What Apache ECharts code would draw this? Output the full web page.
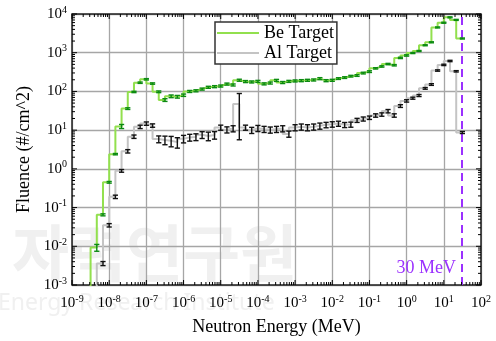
<!DOCTYPE html>
<html><head><meta charset="utf-8">
<script src="https://cdn.jsdelivr.net/npm/echarts@6/dist/echarts.min.js"></script>
<style>html,body{margin:0;padding:0;background:#fff}#c{width:496px;height:341px}</style>
</head><body><div id="c"></div>
<script>
// upper bin edges (MeV); bin i spans binEdges[i-1]..binEdges[i]
const binEdges = [3.162e-9, 4.642e-9, 6.813e-9,
  1e-8, 1.468e-8, 2.154e-8, 3.162e-8, 4.642e-8, 6.813e-8,
  1e-7, 1.468e-7, 2.154e-7, 3.162e-7, 4.642e-7, 6.813e-7,
  1e-6, 1.468e-6, 2.154e-6, 3.162e-6, 4.642e-6, 6.813e-6,
  1e-5, 1.468e-5, 2.154e-5, 3.162e-5, 4.642e-5, 6.813e-5,
  1e-4, 1.468e-4, 2.154e-4, 3.162e-4, 4.642e-4, 6.813e-4,
  1e-3, 1.468e-3, 2.154e-3, 3.162e-3, 4.642e-3, 6.813e-3,
  1e-2, 1.468e-2, 2.154e-2, 3.162e-2, 4.642e-2, 6.813e-2,
  0.1, 0.1468, 0.2154, 0.3162, 0.4642, 0.6813,
  1, 1.468, 2.154, 3.162, 4.642, 6.813,
  10, 14.68, 21.54, 31.62];
const beValues = [null, 0.0093, 0.065, 0.45,
  2.4, 12.5, 36, 97, 168, 206,
  160, 98, 60, 75, 73, 80,
  100, 104, 115, 128, 133, 138,
  155, 147, 195, 180, 176, 182,
  157, 165, 193, 170, 182, 187,
  190, 194, 198, 214, 190, 194,
  215, 228, 248, 258, 298, 325,
  395, 442, 510, 475, 735, 850,
  980, 1110, 1560, 1860, 4500, 5950,
  8200, 7050, 2330];
const alValues = [null, null, 0.0036, 0.035,
  0.19, 0.89, 2.85, 6.8, 12.2, 14.8,
  13.2, 5.9, 5.6, 5.3, 4.9, 6.0,
  6.5, 6.7, 7.6, 7.1, 7.5, 11.7,
  10.3, 11, 47, 11.7, 10, 11.2,
  10.6, 10.2, 10.6, 11, 8, 11.7,
  12.2, 11.7, 12.2, 12.9, 13.7, 14.2,
  14.8, 13.7, 14, 18, 19.5, 21,
  24, 25.4, 31, 24, 42, 57,
  67, 78.5, 120, 151, 347, 485,
  612, 331, 8.7];
const beRelErr = [null, 0.2, 0.06, 0.05,
  0.04, 0.12, 0.05, 0.04, 0.04, 0.04,
  0.04, 0.05, 0.08, 0.08, 0.08, 0.07,
  0.06, 0.06, 0.06, 0.06, 0.06, 0.06,
  0.06, 0.06, 0.06, 0.06, 0.06, 0.06,
  0.06, 0.06, 0.06, 0.06, 0.06, 0.06,
  0.06, 0.06, 0.06, 0.06, 0.06, 0.06,
  0.05, 0.05, 0.05, 0.05, 0.05, 0.05,
  0.04, 0.04, 0.04, 0.04, 0.04, 0.04,
  0.03, 0.03, 0.03, 0.03, 0.03, 0.03,
  0.03, 0.03, 0.03];
const alRelErr = [null, null, 0.12, 0.1,
  0.1, 0.08, 0.1, 0.1, 0.1, 0.1,
  0.1, 0.2, 0.25, 0.3, 0.3, 0.22,
  0.2, 0.2, 0.2, 0.25, 0.22, 0.15,
  0.18, 0.18, 0.88, 0.15, 0.18, 0.18,
  0.18, 0.18, 0.18, 0.18, 0.18, 0.18,
  0.18, 0.18, 0.18, 0.18, 0.16, 0.16,
  0.15, 0.15, 0.15, 0.12, 0.12, 0.1,
  0.1, 0.1, 0.1, 0.1, 0.08, 0.07,
  0.06, 0.06, 0.05, 0.05, 0.04, 0.04,
  0.04, 0.04, 0.06];
const cutoffEnergy = 30;
const seriesNames = ['Be Target', 'Al Target'];
const xRange = [1e-9, 1e2];
const yRange = [1e-3, 1e4];

const FONT = 'Liberation Serif';
const GREEN = '#92e04e', GREEN_ERR = '#0b8a12', GRAY = '#c4c4c4', PURPLE = '#9b30ff';

function stepData(vals) {
  const out = []; let started = false;
  for (let i = 0; i < binEdges.length; i++) {
    if (vals[i] == null) continue;
    if (!started) { out.push([binEdges[i - 1], 1e-12]); started = true; }
    out.push([binEdges[i], vals[i]]);
  }
  return out;
}
function errData(vals, rel) {
  const out = [];
  for (let i = 0; i < binEdges.length; i++) {
    if (vals[i] == null || rel[i] == null) continue;
    out.push([binEdges[i], vals[i], vals[i] * (1 - rel[i]), vals[i] * (1 + rel[i])]);
  }
  return out;
}
function errRender(color) {
  return function (params, api) {
    const x = api.value(0);
    const p1 = api.coord([x, api.value(2)]);
    const p2 = api.coord([x, api.value(3)]);
    const w = 2.6;
    const st = { stroke: color, lineWidth: 1.4 };
    return { type: 'group', children: [
      { type: 'line', shape: { x1: p1[0], y1: p1[1], x2: p2[0], y2: p2[1] }, style: st },
      { type: 'line', shape: { x1: p1[0] - w, y1: p1[1], x2: p1[0] + w, y2: p1[1] }, style: st },
      { type: 'line', shape: { x1: p2[0] - w, y1: p2[1], x2: p2[0] + w, y2: p2[1] }, style: st }
    ]};
  };
}
// tick marks (decoration) on all four sides
const tickData = [];
for (let n = -9; n <= 2; n++) {
  tickData.push([Math.pow(10, n), 1, 0, 1]);
  if (n < 2) for (let m = 2; m <= 9; m++) tickData.push([m * Math.pow(10, n), 1, 0, 0]);
}
for (let n = -3; n <= 4; n++) {
  tickData.push([1, Math.pow(10, n), 1, 1]);
  if (n < 4) for (let m = 2; m <= 9; m++) tickData.push([1, m * Math.pow(10, n), 1, 0]);
}
function tickRender(params, api) {
  const isY = api.value(2) === 1, major = api.value(3) === 1;
  const L = major ? 5 : 3;
  const st = { stroke: '#000', lineWidth: 1 };
  if (!isY) {
    const x = api.value(0);
    const b = api.coord([x, yRange[0]]), t = api.coord([x, yRange[1]]);
    return { type: 'group', children: [
      { type: 'line', shape: { x1: b[0], y1: b[1], x2: b[0], y2: b[1] - L }, style: st },
      { type: 'line', shape: { x1: t[0], y1: t[1], x2: t[0], y2: t[1] + L }, style: st }
    ]};
  } else {
    const y = api.value(1);
    const l = api.coord([xRange[0], y]), r = api.coord([xRange[1], y]);
    return { type: 'group', children: [
      { type: 'line', shape: { x1: l[0], y1: l[1], x2: l[0] + L, y2: l[1] }, style: st },
      { type: 'line', shape: { x1: r[0], y1: r[1], x2: r[0] - L, y2: r[1] }, style: st }
    ]};
  }
}
function powLabel(v) {
  const n = Math.round(Math.log10(v));
  return '{b|10}{s|' + n + '}';
}
const richLbl = {
  b: { fontFamily: FONT, fontSize: 15, color: '#000' },
  s: { fontFamily: FONT, fontSize: 10, color: '#000', padding: [0, 0, 8, 0] }
};

const chart = echarts.init(document.getElementById('c'), null, { renderer: 'canvas' });
chart.setOption({
  animation: false,
  backgroundColor: '#fff',
  graphic: [
    { type: 'text', z: -10, left: 12, top: 222, silent: true,
      style: { text: '자력연구원', fill: '#f0f0f0', font: 'bold 62px "Noto Sans CJK KR"' } },
    { type: 'text', z: -10, left: -2, top: 292, silent: true,
      style: { text: 'Energy Research Institute', fill: '#f0f0f0', font: '23px "Noto Sans"' } },
    { type: 'text', z: 50, right: 40, top: 259,
      style: { text: cutoffEnergy + ' MeV', fill: PURPLE, font: '18px "Liberation Serif"' } }
  ],
  grid: { left: 72, top: 14, right: 15, bottom: 50, show: true, borderColor: '#222', borderWidth: 1.5, backgroundColor: 'transparent', z: 3 },
  legend: {
    left: 215, top: 22, orient: 'vertical', data: seriesNames, icon: 'rect',
    itemWidth: 42, itemHeight: 2, itemGap: 2, padding: [2, 3, 2, 2],
    borderColor: '#333', borderWidth: 1.5, backgroundColor: '#fff',
    textStyle: { fontFamily: FONT, fontSize: 18, color: '#000', lineHeight: 18 }, z: 20
  },
  xAxis: {
    type: 'log', logBase: 10, min: xRange[0], max: xRange[1], interval: 1,
    name: 'Neutron Energy (MeV)', nameLocation: 'middle', nameGap: 33,
    nameTextStyle: { fontFamily: FONT, fontSize: 18, color: '#000' },
    axisLine: { show: false }, axisTick: { show: false },
    axisLabel: { formatter: powLabel, rich: richLbl, margin: 9, showMinLabel: true, showMaxLabel: true, interval: 0 },
    splitLine: { show: true, lineStyle: { color: '#a6a6a6', width: 1.3 } },
    minorSplitLine: { show: false }
  },
  yAxis: {
    type: 'log', logBase: 10, min: yRange[0], max: yRange[1], interval: 1,
    name: 'Fluence (#/cm^2)', nameLocation: 'middle', nameGap: 38,
    nameTextStyle: { fontFamily: FONT, fontSize: 18, color: '#000' },
    axisLine: { show: false }, axisTick: { show: false },
    axisLabel: { formatter: powLabel, rich: richLbl, margin: 5 },
    splitLine: { show: true, lineStyle: { color: '#a6a6a6', width: 1.3 } }
  },
  series: [
    { name: seriesNames[1], type: 'line', step: 'start', data: stepData(alValues), showSymbol: false,
      color: GRAY, lineStyle: { color: GRAY, width: 2 }, z: 4,
      markLine: { silent: true, symbol: 'none', label: { show: false },
        lineStyle: { color: PURPLE, type: [8, 5], width: 2 }, data: [{ xAxis: cutoffEnergy }] } },
    { name: seriesNames[0], type: 'line', step: 'start', data: stepData(beValues), showSymbol: false,
      color: GREEN, lineStyle: { color: GREEN, width: 2 }, z: 5 },
    { name: 'alErr', type: 'custom', renderItem: errRender('#111'), data: errData(alValues, alRelErr), z: 6, clip: true },
    { name: 'beErr', type: 'custom', renderItem: errRender(GREEN_ERR), data: errData(beValues, beRelErr), z: 7, clip: true },
    { name: 'ticks', type: 'custom', renderItem: tickRender, data: tickData, z: 8, silent: true }
  ]
});
</script></body></html>
